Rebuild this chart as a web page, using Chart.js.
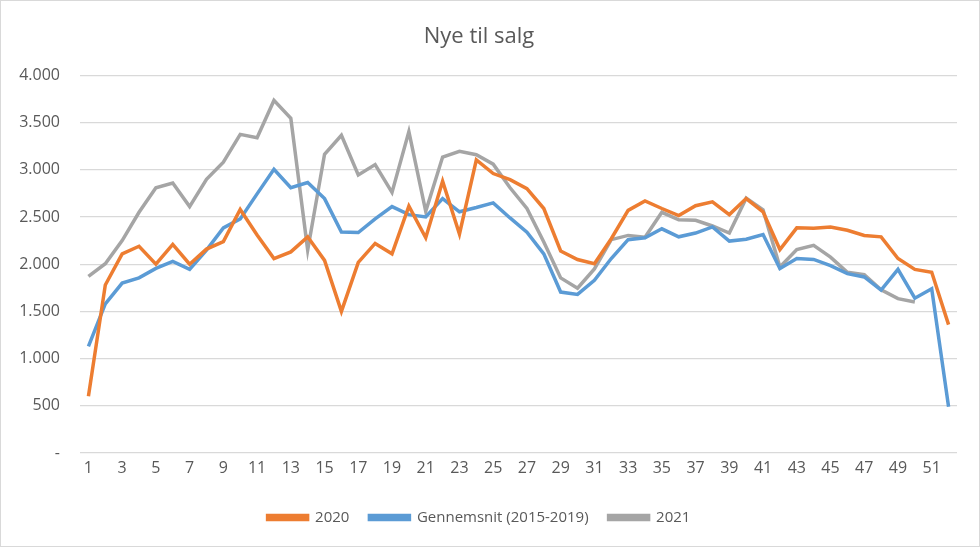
<!DOCTYPE html>
<html>
<head>
<meta charset="utf-8">
<script src="https://cdn.jsdelivr.net/npm/chart.js@4"></script>
<style>
  html, body { margin: 0; padding: 0; background: #fff; }
  #wrap { width: 980px; height: 547px; box-sizing: border-box; border: 1px solid #d9d9d9; }
</style>
</head>
<body>
<div id="wrap"><canvas id="chart"></canvas></div>
<script>
// uge 1..52
const weeks = Array.from({ length: 52 }, (_, i) => String(i + 1));

const sales2020 = [
  600, 1780, 2110, 2190, 2000, 2210, 2000, 2160, 2240, 2580,
  2310, 2060, 2130, 2290, 2040, 1500, 2020, 2220, 2110, 2615,
  2280, 2880, 2320, 3105, 2960, 2895, 2800, 2590, 2140, 2050,
  2005, 2270, 2570, 2670, 2590, 2515, 2620, 2660, 2525, 2695,
  2555, 2155, 2385, 2380, 2395, 2360, 2305, 2290, 2060, 1945,
  1915, 1360
];

const avg2015to2019 = [
  1130, 1580, 1800, 1855, 1955, 2030, 1945, 2150, 2385, 2480,
  2745, 3005, 2810, 2865, 2695, 2340, 2335, 2480, 2610, 2525,
  2500, 2695, 2555, 2600, 2650, 2490, 2340, 2110, 1705, 1680,
  1830, 2060, 2260, 2280, 2375, 2290, 2330, 2395, 2245, 2265,
  2315, 1955, 2060, 2050, 1985, 1900, 1865, 1725, 1945, 1640,
  1740, 490
];

const sales2021 = [
  1870, 2005, 2250, 2550, 2810, 2860, 2610, 2900, 3080, 3375,
  3340, 3735, 3545, 2150, 3165, 3365, 2945, 3055, 2760, 3405,
  2560, 3135, 3195, 3160, 3060, 2810, 2590, 2235, 1855, 1745,
  1950, 2260, 2305, 2285, 2550, 2470, 2465, 2405, 2330, 2700,
  2575, 1970, 2155, 2200, 2075, 1915, 1890, 1730, 1635, 1600,
  null, null
];

const yTicks = [0, 500, 1000, 1500, 2000, 2500, 3000, 3500, 4000];

const textColor = '#595959';
const gridColor = '#d9d9d9';

function line(label, data, color) {
  return {
    label: label,
    data: data,
    borderColor: color,
    backgroundColor: color,
    borderWidth: 3.5,
    pointRadius: 0,
    pointHoverRadius: 0,
    tension: 0,
    fill: false,
    spanGaps: false
  };
}

new Chart(document.getElementById('chart'), {
  type: 'line',
  data: {
    labels: weeks,
    datasets: [
      line('2020', sales2020, '#ED7D31'),
      line('Gennemsnit (2015-2019)', avg2015to2019, '#5B9BD5'),
      line('2021', sales2021, '#A5A5A5')
    ]
  },
  options: {
    responsive: true,
    maintainAspectRatio: false,
    animation: false,
    layout: { padding: { left: 0, right: 22, top: 0, bottom: 11 } },
    plugins: {
      title: {
        display: true,
        text: 'Nye til salg',
        color: textColor,
        font: { family: 'Open Sans', size: 22, weight: 'normal' },
        padding: { top: 23, bottom: 25 }
      },
      legend: {
        position: 'bottom',
        labels: {
          color: textColor,
          font: { family: 'Open Sans', size: 15 },
          boxWidth: 40,
          boxHeight: 4,
          padding: 20
        }
      },
      tooltip: { enabled: false }
    },
    scales: {
      x: {
        offset: true,
        grid: { display: false, drawTicks: false },
        border: { display: false },
        ticks: {
          autoSkip: false,
          maxRotation: 0,
          padding: 6,
          color: textColor,
          font: { family: 'Open Sans', size: 16 },
          callback: (v, i) => (i % 2 === 0 ? weeks[i] : '')
        },
        afterFit: (scale) => { scale.height = 37; }
      },
      y: {
        min: 0,
        max: 4000,
        afterBuildTicks: (scale) => { scale.ticks = yTicks.map(v => ({ value: v })); },
        grid: { color: gridColor, lineWidth: 1.2, drawTicks: false },
        border: { display: false },
        ticks: {
          padding: 20,
          color: textColor,
          font: { family: 'Open Sans', size: 16 },
          callback: (v) => (v === 0 ? '-' : v.toLocaleString('da-DK'))
        },
        afterFit: (scale) => { scale.width = 79; }
      }
    }
  }
});
</script>
</body>
</html>
